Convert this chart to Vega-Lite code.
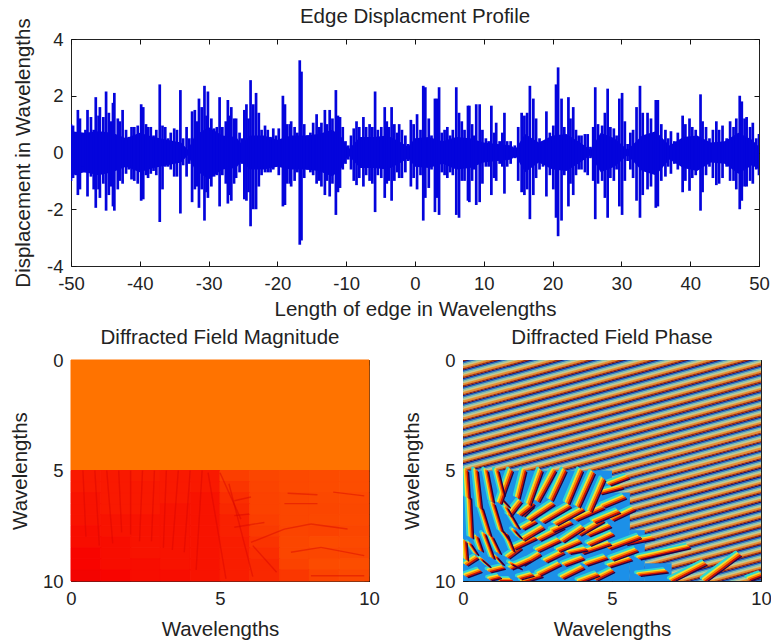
{
"$schema":"https://vega.github.io/schema/vega-lite/v6.json",
"background":"white",
"padding":{"left":9,"top":6,"right":0,"bottom":0},
"bounds":"flush",
"spacing":94,
"config":{"view":{"stroke":"#222","strokeWidth":1},"font":"Liberation Sans",
"axis":{"grid":false,"domain":false,"tickColor":"#111","tickSize":-5,"labelFont":"Liberation Sans","titleFont":"Liberation Sans","labelFontSize":18.5,"titleFontSize":20.5,"titleFontWeight":"normal","labelColor":"#222","titleColor":"#222","labelPadding":13,"zindex":1,"labelOverlap":false,"labelFlush":false,"labelExpr":"datum.value"},
"title":{"font":"Liberation Sans","fontSize":20.5,"fontWeight":"normal","color":"#222"}},
"datasets":{
"ax":[{"x":0,"y":0}],
"band":[{"x":-50,"a":0.75,"b":-0.8},{"x":-48,"a":0.7,"b":-0.7},{"x":-46,"a":0.75,"b":-0.8},{"x":-44,"a":0.7,"b":-0.7},{"x":-42,"a":0.5,"b":-0.5},{"x":-40,"a":0.7,"b":-0.7},{"x":-38,"a":0.55,"b":-0.55},{"x":-36,"a":0.45,"b":-0.45},{"x":-34,"a":0.35,"b":-0.35},{"x":-33,"a":0.1,"b":-0.1},{"x":-32,"a":0.6,"b":-0.6},{"x":-30,"a":0.9,"b":-0.95},{"x":-28,"a":0.6,"b":-0.6},{"x":-26,"a":0.55,"b":-0.55},{"x":-25.2,"a":0.3,"b":-0.3},{"x":-24,"a":0.6,"b":-0.6},{"x":-22,"a":0.6,"b":-0.6},{"x":-20,"a":0.45,"b":-0.5},{"x":-18,"a":0.6,"b":-0.6},{"x":-16,"a":0.6,"b":-0.6},{"x":-14,"a":0.65,"b":-0.65},{"x":-12,"a":0.8,"b":-0.85},{"x":-10.5,"a":0.5,"b":-0.5},{"x":-9.7,"a":0.1,"b":-0.1},{"x":-8,"a":0.55,"b":-0.55},{"x":-6,"a":0.55,"b":-0.55},{"x":-4,"a":0.6,"b":-0.6},{"x":-2,"a":0.35,"b":-0.35},{"x":-1,"a":0.2,"b":-0.2},{"x":0,"a":0.5,"b":-0.5},{"x":2,"a":0.55,"b":-0.55},{"x":4,"a":0.4,"b":-0.4},{"x":6,"a":0.55,"b":-0.6},{"x":8,"a":0.5,"b":-0.55},{"x":10,"a":0.35,"b":-0.35},{"x":12,"a":0.3,"b":-0.3},{"x":14,"a":0.25,"b":-0.25},{"x":14.6,"a":0.12,"b":-0.12},{"x":16,"a":0.65,"b":-0.7},{"x":18,"a":0.35,"b":-0.35},{"x":20,"a":0.6,"b":-0.6},{"x":22,"a":0.65,"b":-0.65},{"x":24,"a":0.35,"b":-0.35},{"x":25.5,"a":0.1,"b":-0.1},{"x":27,"a":0.7,"b":-0.7},{"x":29,"a":0.5,"b":-0.5},{"x":30.9,"a":0.1,"b":-0.1},{"x":33,"a":0.6,"b":-0.65},{"x":35,"a":0.75,"b":-0.8},{"x":37,"a":0.25,"b":-0.25},{"x":39,"a":0.55,"b":-0.55},{"x":41,"a":0.6,"b":-0.65},{"x":43,"a":0.35,"b":-0.35},{"x":45,"a":0.4,"b":-0.4},{"x":47,"a":0.7,"b":-0.75},{"x":49,"a":0.45,"b":-0.45},{"x":50,"a":0.2,"b":-0.6}],
"sp":[{"x":-50,"a":1,"b":-1},{"x":-49.7,"a":0.95,"b":-0.9},{"x":-49.3,"a":0.7,"b":-0.8},{"x":-49,"a":1.5,"b":-1.5},{"x":-48.7,"a":1.2,"b":-1.3},{"x":-48.3,"a":0.6,"b":-0.5},{"x":-47.9,"a":0.8,"b":-0.7},{"x":-47.6,"a":1.5,"b":-1.55},{"x":-47.1,"a":1.25,"b":-0.85},{"x":-46.7,"a":0.8,"b":-1.3},{"x":-46.4,"a":1.95,"b":-1.95},{"x":-46,"a":1.3,"b":-1.3},{"x":-45.8,"a":1.6,"b":-1.6},{"x":-45.3,"a":1.25,"b":-1.1},{"x":-44.9,"a":2.15,"b":-2.05},{"x":-44.5,"a":1.4,"b":-1.5},{"x":-44.2,"a":1.1,"b":-1.2},{"x":-43.9,"a":1.75,"b":-1.9},{"x":-43.7,"a":2.1,"b":-2.05},{"x":-43.2,"a":1.2,"b":-1.3},{"x":-42.9,"a":1.1,"b":-1},{"x":-42.5,"a":1.5,"b":-1.1},{"x":-42,"a":0.8,"b":-0.75},{"x":-41.6,"a":0.55,"b":-0.6},{"x":-41.2,"a":0.9,"b":-0.95},{"x":-40.8,"a":0.9,"b":-1},{"x":-40.3,"a":0.95,"b":-1.1},{"x":-39.8,"a":1.7,"b":-1.7},{"x":-39.5,"a":1.6,"b":-1.65},{"x":-39.1,"a":1,"b":-0.8},{"x":-38.8,"a":0.9,"b":-0.9},{"x":-38.4,"a":0.9,"b":-0.75},{"x":-38,"a":0.6,"b":-0.65},{"x":-37.6,"a":0.8,"b":-0.8},{"x":-37.1,"a":2.4,"b":-2.45},{"x":-36.7,"a":0.95,"b":-1.3},{"x":-36.3,"a":0.9,"b":-0.5},{"x":-35.9,"a":0.5,"b":-0.5},{"x":-35.5,"a":0.7,"b":-0.6},{"x":-35,"a":0.85,"b":-0.85},{"x":-34.6,"a":0.8,"b":-0.85},{"x":-34.1,"a":2.2,"b":-2.15},{"x":-33.7,"a":0.5,"b":-0.45},{"x":-33.2,"a":0.9,"b":-0.85},{"x":-32.8,"a":0.5,"b":-0.4},{"x":-32.4,"a":1.45,"b":-1.75},{"x":-32,"a":1.5,"b":-1.3},{"x":-31.7,"a":1.1,"b":-1.2},{"x":-31.4,"a":1.9,"b":-1.95},{"x":-31,"a":1.6,"b":-1.3},{"x":-30.6,"a":2.35,"b":-2.4},{"x":-30.3,"a":1.3,"b":-1.4},{"x":-30.1,"a":2.15,"b":-1.6},{"x":-29.6,"a":1.2,"b":-1.2},{"x":-29.2,"a":0.85,"b":-0.85},{"x":-28.8,"a":0.9,"b":-0.8},{"x":-28.4,"a":1.95,"b":-1.9},{"x":-28,"a":0.9,"b":-0.8},{"x":-27.5,"a":1.1,"b":-1.1},{"x":-27.2,"a":1.85,"b":-1.8},{"x":-26.9,"a":1.3,"b":-1.5},{"x":-26.7,"a":1.6,"b":-1.7},{"x":-26.3,"a":1.2,"b":-1.1},{"x":-26,"a":1.2,"b":-0.9},{"x":-25.5,"a":0.7,"b":-0.7},{"x":-25.1,"a":0.5,"b":-0.4},{"x":-24.8,"a":1.5,"b":-1.65},{"x":-24.5,"a":1.7,"b":-1.7},{"x":-24.2,"a":1.2,"b":-1.4},{"x":-23.9,"a":2.55,"b":-2.6},{"x":-23.5,"a":1.7,"b":-2},{"x":-23.1,"a":2.1,"b":-2},{"x":-22.7,"a":1.4,"b":-1.2},{"x":-22.3,"a":0.8,"b":-0.8},{"x":-21.8,"a":0.95,"b":-0.7},{"x":-21.4,"a":0.8,"b":-0.7},{"x":-21,"a":0.55,"b":-0.7},{"x":-20.6,"a":0.85,"b":-0.6},{"x":-20.2,"a":0.6,"b":-0.5},{"x":-19.8,"a":0.85,"b":-0.8},{"x":-19.2,"a":2,"b":-1.9},{"x":-18.9,"a":1.7,"b":-1.85},{"x":-18.6,"a":1,"b":-1.1},{"x":-18.2,"a":1,"b":-1.1},{"x":-18,"a":1.1,"b":-1.2},{"x":-17.5,"a":0.9,"b":-1},{"x":-17.1,"a":0.7,"b":-0.7},{"x":-16.75,"a":3.25,"b":-3.25},{"x":-16.5,"a":2.85,"b":-3.1},{"x":-16.1,"a":1,"b":-0.9},{"x":-15.7,"a":0.6,"b":-0.6},{"x":-15.2,"a":0.7,"b":-0.7},{"x":-14.8,"a":1.05,"b":-0.8},{"x":-14.3,"a":1.35,"b":-1.1},{"x":-13.9,"a":0.9,"b":-1},{"x":-13.6,"a":1.05,"b":-1.2},{"x":-13.1,"a":1.5,"b":-1.5},{"x":-12.8,"a":1,"b":-1},{"x":-12.4,"a":1.5,"b":-1.55},{"x":-12,"a":1.2,"b":-1.1},{"x":-11.5,"a":2.2,"b":-2.2},{"x":-11.2,"a":1.3,"b":-1.4},{"x":-10.9,"a":1.25,"b":-1.25},{"x":-10.5,"a":0.9,"b":-0.6},{"x":-10.1,"a":0.4,"b":-0.4},{"x":-9.7,"a":0.25,"b":-0.25},{"x":-9.3,"a":0.6,"b":-0.6},{"x":-8.9,"a":0.85,"b":-1},{"x":-8.5,"a":1.1,"b":-1.15},{"x":-8.1,"a":0.9,"b":-0.9},{"x":-7.5,"a":1.25,"b":-1.2},{"x":-7.1,"a":0.9,"b":-0.8},{"x":-6.6,"a":1,"b":-1},{"x":-6.2,"a":0.9,"b":-1.1},{"x":-5.8,"a":2.15,"b":-2.1},{"x":-5.4,"a":0.8,"b":-0.8},{"x":-4.9,"a":0.9,"b":-0.9},{"x":-4.4,"a":1.6,"b":-1.6},{"x":-4.1,"a":1.1,"b":-1.1},{"x":-3.8,"a":0.9,"b":-1},{"x":-3.4,"a":1.6,"b":-1.7},{"x":-3,"a":1,"b":-1},{"x":-2.6,"a":0.7,"b":-0.7},{"x":-2.3,"a":1,"b":-0.9},{"x":-1.9,"a":0.8,"b":-0.9},{"x":-1.4,"a":0.6,"b":-0.7},{"x":-1,"a":0.3,"b":-0.3},{"x":-0.6,"a":1.15,"b":-1.2},{"x":-0.2,"a":1,"b":-0.9},{"x":0.3,"a":1.35,"b":-1.3},{"x":0.8,"a":0.8,"b":-0.8},{"x":1.2,"a":2.35,"b":-2.4},{"x":1.5,"a":2.3,"b":-1.6},{"x":2,"a":1.2,"b":-1.25},{"x":2.4,"a":0.6,"b":-0.6},{"x":2.9,"a":1.9,"b":-2.1},{"x":3.2,"a":1.9,"b":-1.6},{"x":3.5,"a":2.3,"b":-2.2},{"x":3.9,"a":0.7,"b":-0.7},{"x":4.3,"a":0.8,"b":-0.8},{"x":4.7,"a":0.9,"b":-0.9},{"x":5.1,"a":0.6,"b":-0.7},{"x":5.5,"a":0.8,"b":-0.8},{"x":6,"a":2.3,"b":-2.2},{"x":6.4,"a":1.4,"b":-2.3},{"x":6.8,"a":1.1,"b":-1},{"x":7.2,"a":0.8,"b":-1},{"x":7.7,"a":1.65,"b":-1.7},{"x":7.9,"a":1.65,"b":-1.75},{"x":8.3,"a":1,"b":-1},{"x":8.6,"a":0.6,"b":-0.6},{"x":8.9,"a":1.7,"b":-1.85},{"x":9.4,"a":1.7,"b":-1.75},{"x":9.8,"a":0.8,"b":-1.1},{"x":10.3,"a":0.5,"b":-0.5},{"x":10.7,"a":0.4,"b":-0.5},{"x":11.1,"a":1.65,"b":-1.5},{"x":11.5,"a":0.7,"b":-0.9},{"x":11.8,"a":1.05,"b":-1},{"x":12.3,"a":0.4,"b":-0.4},{"x":12.7,"a":0.7,"b":-0.5},{"x":13,"a":1.4,"b":-1.45},{"x":13.4,"a":0.4,"b":-0.5},{"x":13.9,"a":0.4,"b":-0.4},{"x":14.5,"a":0.25,"b":-0.2},{"x":15,"a":0.9,"b":-1},{"x":15.5,"a":1.4,"b":-1.4},{"x":15.9,"a":1.3,"b":-1.5},{"x":16.3,"a":1.4,"b":-1.3},{"x":16.7,"a":2.35,"b":-2.35},{"x":17.2,"a":1.9,"b":-1.5},{"x":17.6,"a":1.2,"b":-0.9},{"x":18.1,"a":0.5,"b":-0.6},{"x":18.6,"a":0.4,"b":-0.5},{"x":19.1,"a":1.45,"b":-1.55},{"x":19.6,"a":0.7,"b":-0.8},{"x":20.1,"a":0.95,"b":-1.3},{"x":20.5,"a":2.4,"b":-2.3},{"x":20.8,"a":3,"b":-2.95},{"x":21.3,"a":1.9,"b":-2.4},{"x":21.7,"a":0.9,"b":-0.8},{"x":22.3,"a":1.95,"b":-1.9},{"x":22.6,"a":1.2,"b":-1.1},{"x":23,"a":1.6,"b":-1.5},{"x":23.4,"a":0.8,"b":-0.8},{"x":23.8,"a":0.6,"b":-0.6},{"x":24.2,"a":0.6,"b":-0.6},{"x":24.7,"a":0.65,"b":-0.7},{"x":25.1,"a":0.65,"b":-0.8},{"x":25.5,"a":0.2,"b":-0.2},{"x":25.9,"a":0.9,"b":-1},{"x":26.2,"a":2.3,"b":-2.35},{"x":26.6,"a":1,"b":-1.1},{"x":27.2,"a":0.95,"b":-1},{"x":27.6,"a":1.4,"b":-1.6},{"x":28,"a":2.25,"b":-2.3},{"x":28.4,"a":0.9,"b":-0.9},{"x":28.9,"a":0.85,"b":-1},{"x":29.3,"a":0.6,"b":-0.6},{"x":29.7,"a":1.9,"b":-1.9},{"x":30.1,"a":2.1,"b":-2.2},{"x":30.5,"a":1.1,"b":-1},{"x":30.9,"a":0.3,"b":-0.3},{"x":31.3,"a":0.7,"b":-0.6},{"x":31.7,"a":0.8,"b":-0.9},{"x":32.2,"a":1.6,"b":-1.7},{"x":32.7,"a":2.35,"b":-2.3},{"x":33.1,"a":1.4,"b":-1.5},{"x":33.8,"a":1.4,"b":-1.3},{"x":34.3,"a":1.2,"b":-1.2},{"x":35,"a":1.85,"b":-1.95},{"x":35.3,"a":1.85,"b":-1.9},{"x":35.8,"a":1,"b":-1},{"x":36.4,"a":0.8,"b":-0.85},{"x":36.8,"a":0.5,"b":-0.5},{"x":37.2,"a":0.75,"b":-0.75},{"x":37.7,"a":0.4,"b":-0.4},{"x":38.2,"a":0.7,"b":-0.6},{"x":38.9,"a":1.3,"b":-1.4},{"x":39.3,"a":1,"b":-1},{"x":39.9,"a":1.2,"b":-1.35},{"x":40.3,"a":0.9,"b":-0.9},{"x":40.8,"a":0.8,"b":-0.8},{"x":41.5,"a":2.05,"b":-2.05},{"x":41.8,"a":1.1,"b":-1.4},{"x":42.3,"a":0.9,"b":-0.8},{"x":42.8,"a":0.5,"b":-0.5},{"x":43.3,"a":0.8,"b":-0.9},{"x":43.8,"a":1.1,"b":-1.15},{"x":44.2,"a":0.8,"b":-1.1},{"x":44.7,"a":0.95,"b":-0.9},{"x":45.3,"a":0.5,"b":-0.5},{"x":45.8,"a":1.1,"b":-1},{"x":46.3,"a":0.9,"b":-1},{"x":46.7,"a":1.2,"b":-1.3},{"x":47.2,"a":2,"b":-2},{"x":47.5,"a":1.8,"b":-1.7},{"x":47.9,"a":1.2,"b":-1.2},{"x":48.2,"a":1.25,"b":-1.2},{"x":48.7,"a":0.9,"b":-1},{"x":49.1,"a":1.05,"b":-1.1},{"x":49.6,"a":0.5,"b":-0.6},{"x":50,"a":0.65,"b":-0.8}],
"mag":[{"x":0,"x2":10,"y":0,"y2":5,"v":1},
{"x":0,"x2":1,"y":5,"y2":5.5,"v":0.53},{"x":1,"x2":2,"y":5,"y2":5.5,"v":0.53},{"x":2,"x2":3,"y":5,"y2":5.5,"v":0.54},{"x":3,"x2":4,"y":5,"y2":5.5,"v":0.53},{"x":4,"x2":5,"y":5,"y2":5.5,"v":0.53},{"x":5,"x2":6,"y":5,"y2":5.5,"v":0.66},{"x":6,"x2":7,"y":5,"y2":5.5,"v":0.7},{"x":7,"x2":8,"y":5,"y2":5.5,"v":0.72},{"x":8,"x2":9,"y":5,"y2":5.5,"v":0.73},{"x":9,"x2":10,"y":5,"y2":5.5,"v":0.74},
{"x":0,"x2":1,"y":5.5,"y2":6,"v":0.53},{"x":1,"x2":2,"y":5.5,"y2":6,"v":0.53},{"x":2,"x2":3,"y":5.5,"y2":6,"v":0.53},{"x":3,"x2":4,"y":5.5,"y2":6,"v":0.53},{"x":4,"x2":5,"y":5.5,"y2":6,"v":0.53},{"x":5,"x2":6,"y":5.5,"y2":6,"v":0.62},{"x":6,"x2":7,"y":5.5,"y2":6,"v":0.69},{"x":7,"x2":8,"y":5.5,"y2":6,"v":0.72},{"x":8,"x2":9,"y":5.5,"y2":6,"v":0.73},{"x":9,"x2":10,"y":5.5,"y2":6,"v":0.74},
{"x":0,"x2":1,"y":6,"y2":6.5,"v":0.52},{"x":1,"x2":2,"y":6,"y2":6.5,"v":0.53},{"x":2,"x2":3,"y":6,"y2":6.5,"v":0.53},{"x":3,"x2":4,"y":6,"y2":6.5,"v":0.53},{"x":4,"x2":5,"y":6,"y2":6.5,"v":0.52},{"x":5,"x2":6,"y":6,"y2":6.5,"v":0.59},{"x":6,"x2":7,"y":6,"y2":6.5,"v":0.68},{"x":7,"x2":8,"y":6,"y2":6.5,"v":0.7},{"x":8,"x2":9,"y":6,"y2":6.5,"v":0.71},{"x":9,"x2":10,"y":6,"y2":6.5,"v":0.72},
{"x":0,"x2":1,"y":6.5,"y2":7,"v":0.52},{"x":1,"x2":2,"y":6.5,"y2":7,"v":0.53},{"x":2,"x2":3,"y":6.5,"y2":7,"v":0.53},{"x":3,"x2":4,"y":6.5,"y2":7,"v":0.52},{"x":4,"x2":5,"y":6.5,"y2":7,"v":0.52},{"x":5,"x2":6,"y":6.5,"y2":7,"v":0.57},{"x":6,"x2":7,"y":6.5,"y2":7,"v":0.68},{"x":7,"x2":8,"y":6.5,"y2":7,"v":0.7},{"x":8,"x2":9,"y":6.5,"y2":7,"v":0.7},{"x":9,"x2":10,"y":6.5,"y2":7,"v":0.71},
{"x":0,"x2":1,"y":7,"y2":7.5,"v":0.52},{"x":1,"x2":2,"y":7,"y2":7.5,"v":0.52},{"x":2,"x2":3,"y":7,"y2":7.5,"v":0.52},{"x":3,"x2":4,"y":7,"y2":7.5,"v":0.52},{"x":4,"x2":5,"y":7,"y2":7.5,"v":0.52},{"x":5,"x2":6,"y":7,"y2":7.5,"v":0.55},{"x":6,"x2":7,"y":7,"y2":7.5,"v":0.66},{"x":7,"x2":8,"y":7,"y2":7.5,"v":0.7},{"x":8,"x2":9,"y":7,"y2":7.5,"v":0.71},{"x":9,"x2":10,"y":7,"y2":7.5,"v":0.72},
{"x":0,"x2":1,"y":7.5,"y2":8,"v":0.51},{"x":1,"x2":2,"y":7.5,"y2":8,"v":0.52},{"x":2,"x2":3,"y":7.5,"y2":8,"v":0.52},{"x":3,"x2":4,"y":7.5,"y2":8,"v":0.52},{"x":4,"x2":5,"y":7.5,"y2":8,"v":0.52},{"x":5,"x2":6,"y":7.5,"y2":8,"v":0.55},{"x":6,"x2":7,"y":7.5,"y2":8,"v":0.64},{"x":7,"x2":8,"y":7.5,"y2":8,"v":0.69},{"x":8,"x2":9,"y":7.5,"y2":8,"v":0.68},{"x":9,"x2":10,"y":7.5,"y2":8,"v":0.7},
{"x":0,"x2":1,"y":8,"y2":8.5,"v":0.51},{"x":1,"x2":2,"y":8,"y2":8.5,"v":0.51},{"x":2,"x2":3,"y":8,"y2":8.5,"v":0.52},{"x":3,"x2":4,"y":8,"y2":8.5,"v":0.52},{"x":4,"x2":5,"y":8,"y2":8.5,"v":0.52},{"x":5,"x2":6,"y":8,"y2":8.5,"v":0.54},{"x":6,"x2":7,"y":8,"y2":8.5,"v":0.61},{"x":7,"x2":8,"y":8,"y2":8.5,"v":0.7},{"x":8,"x2":9,"y":8,"y2":8.5,"v":0.73},{"x":9,"x2":10,"y":8,"y2":8.5,"v":0.72},
{"x":0,"x2":1,"y":8.5,"y2":9,"v":0.5},{"x":1,"x2":2,"y":8.5,"y2":9,"v":0.51},{"x":2,"x2":3,"y":8.5,"y2":9,"v":0.52},{"x":3,"x2":4,"y":8.5,"y2":9,"v":0.52},{"x":4,"x2":5,"y":8.5,"y2":9,"v":0.52},{"x":5,"x2":6,"y":8.5,"y2":9,"v":0.54},{"x":6,"x2":7,"y":8.5,"y2":9,"v":0.59},{"x":7,"x2":8,"y":8.5,"y2":9,"v":0.7},{"x":8,"x2":9,"y":8.5,"y2":9,"v":0.7},{"x":9,"x2":10,"y":8.5,"y2":9,"v":0.7},
{"x":0,"x2":1,"y":9,"y2":9.5,"v":0.5},{"x":1,"x2":2,"y":9,"y2":9.5,"v":0.51},{"x":2,"x2":3,"y":9,"y2":9.5,"v":0.51},{"x":3,"x2":4,"y":9,"y2":9.5,"v":0.52},{"x":4,"x2":5,"y":9,"y2":9.5,"v":0.52},{"x":5,"x2":6,"y":9,"y2":9.5,"v":0.54},{"x":6,"x2":7,"y":9,"y2":9.5,"v":0.57},{"x":7,"x2":8,"y":9,"y2":9.5,"v":0.68},{"x":8,"x2":9,"y":9,"y2":9.5,"v":0.73},{"x":9,"x2":10,"y":9,"y2":9.5,"v":0.74},
{"x":0,"x2":1,"y":9.5,"y2":10,"v":0.48},{"x":1,"x2":2,"y":9.5,"y2":10,"v":0.5},{"x":2,"x2":3,"y":9.5,"y2":10,"v":0.51},{"x":3,"x2":4,"y":9.5,"y2":10,"v":0.51},{"x":4,"x2":5,"y":9.5,"y2":10,"v":0.52},{"x":5,"x2":6,"y":9.5,"y2":10,"v":0.54},{"x":6,"x2":7,"y":9.5,"y2":10,"v":0.57},{"x":7,"x2":8,"y":9.5,"y2":10,"v":0.63},{"x":8,"x2":9,"y":9.5,"y2":10,"v":0.69},{"x":9,"x2":10,"y":9.5,"y2":10,"v":0.71}],
"tex":[{"x":5.48,"y":6.37,"x2":6.04,"y2":6.2},{"x":5.48,"y":7.04,"x2":5.98,"y2":6.97},{"x":5.48,"y":7.57,"x2":6.49,"y2":7.35},{"x":6.04,"y":8.25,"x2":7.16,"y2":7.65},{"x":7.16,"y":7.65,"x2":8.05,"y2":7.42},{"x":8.05,"y":7.42,"x2":9.28,"y2":7.65},{"x":7.38,"y":8.7,"x2":8.39,"y2":8.48},{"x":8.39,"y":8.48,"x2":9.84,"y2":8.85},{"x":7.16,"y":6.5,"x2":8.27,"y2":6.5},{"x":7.27,"y":6.03,"x2":8.27,"y2":6.1},{"x":8.05,"y":9.76,"x2":9.84,"y2":9.76},{"x":8.8,"y":5.98,"x2":9.84,"y2":6.15},{"x":5,"y":5.1,"x2":5.7,"y2":7.2},{"x":5.3,"y":5.6,"x2":6.1,"y2":9.8},{"x":4.6,"y":5.1,"x2":5.2,"y2":9.9},{"x":6.1,"y":8.4,"x2":6.9,"y2":9.6},{"x":0.4,"y":5,"x2":0.5,"y2":8},{"x":0.8,"y":5,"x2":0.95,"y2":8.4},{"x":1.2,"y":5,"x2":1.4,"y2":8.3},{"x":1.6,"y":5,"x2":1.7,"y2":7.8},{"x":2,"y":5,"x2":2,"y2":7.9},{"x":2.4,"y":5,"x2":2.3,"y2":8.2},{"x":2.8,"y":5,"x2":2.7,"y2":8.2},{"x":3.2,"y":5,"x2":3.1,"y2":8.5},{"x":3.6,"y":5,"x2":3.4,"y2":8.6},{"x":4,"y":5,"x2":3.8,"y2":8.7},{"x":4.4,"y":5,"x2":4.2,"y2":9.5}],
"st":[{"x":0,"y":-0.3,"x2":10,"y2":-3.95},{"x":0,"y":0.085,"x2":10,"y2":-3.565},{"x":0,"y":0.47,"x2":10,"y2":-3.18},{"x":0,"y":0.855,"x2":10,"y2":-2.795},{"x":0,"y":1.24,"x2":10,"y2":-2.41},{"x":0,"y":1.625,"x2":10,"y2":-2.025},{"x":0,"y":2.01,"x2":10,"y2":-1.64},{"x":0,"y":2.395,"x2":10,"y2":-1.255},{"x":0,"y":2.78,"x2":10,"y2":-0.87},{"x":0,"y":3.165,"x2":10,"y2":-0.485},{"x":0,"y":3.55,"x2":10,"y2":-0.1},{"x":0,"y":3.935,"x2":10,"y2":0.285},{"x":0,"y":4.32,"x2":10,"y2":0.67},{"x":0,"y":4.705,"x2":10,"y2":1.055},{"x":0,"y":5.09,"x2":10,"y2":1.44},{"x":0,"y":5.475,"x2":10,"y2":1.825},{"x":0,"y":5.86,"x2":10,"y2":2.21},{"x":0,"y":6.245,"x2":10,"y2":2.595},{"x":0,"y":6.63,"x2":10,"y2":2.98},{"x":0,"y":7.015,"x2":10,"y2":3.365},{"x":0,"y":7.4,"x2":10,"y2":3.75},{"x":0,"y":7.785,"x2":10,"y2":4.135},{"x":0,"y":8.17,"x2":10,"y2":4.52},{"x":0,"y":8.555,"x2":10,"y2":4.905},{"x":0,"y":8.94,"x2":10,"y2":5.29},{"x":0,"y":9.325,"x2":10,"y2":5.675},{"x":0,"y":9.71,"x2":10,"y2":6.06},{"x":0,"y":10.095,"x2":10,"y2":6.445},{"x":0,"y":10.48,"x2":10,"y2":6.83},{"x":0,"y":10.865,"x2":10,"y2":7.215},{"x":0,"y":11.25,"x2":10,"y2":7.6},{"x":0,"y":11.635,"x2":10,"y2":7.985},{"x":0,"y":12.02,"x2":10,"y2":8.37},{"x":0,"y":12.405,"x2":10,"y2":8.755},{"x":0,"y":12.79,"x2":10,"y2":9.14},{"x":0,"y":13.175,"x2":10,"y2":9.525},{"x":0,"y":13.56,"x2":10,"y2":9.91},{"x":0,"y":13.945,"x2":10,"y2":10.295}],
"mask":[{"x":0,"x2":5,"y":5,"y2":10},{"x":5,"x2":5.6,"y":6,"y2":10},{"x":5.6,"x2":6.1,"y":7.7,"y2":10},{"x":6.1,"x2":7,"y":9.2,"y2":10}],
"fr":[{"x":0.1,"y":5,"x2":0.16,"y2":6.2},{"x":0.43,"y":5,"x2":0.57,"y2":6.67},{"x":0.77,"y":5,"x2":0.97,"y2":6.37},{"x":1.13,"y":5,"x2":1.33,"y2":6.07},{"x":1.6,"y":5,"x2":1.22,"y2":6.44},{"x":2.05,"y":5,"x2":1.83,"y2":6.2},{"x":2.6,"y":5,"x2":2.2,"y2":6.5},{"x":3.05,"y":5,"x2":2.5,"y2":6.35},{"x":3.4,"y":5,"x2":2.95,"y2":6.3},{"x":3.95,"y":5,"x2":3.5,"y2":6.45},{"x":4.35,"y":5.1,"x2":3.85,"y2":6.6},{"x":4.7,"y":5.4,"x2":4.25,"y2":6.8},{"x":0.2,"y":6.2,"x2":0.27,"y2":8},{"x":0.6,"y":6.67,"x2":0.88,"y2":7.9},{"x":1,"y":6.5,"x2":1.27,"y2":7.7},{"x":1.44,"y":6.67,"x2":1.83,"y2":7.57},{"x":1.9,"y":6.97,"x2":2.33,"y2":6.5},{"x":2.22,"y":7.2,"x2":3,"y2":6.5},{"x":2.67,"y":7.3,"x2":3.55,"y2":6.6},{"x":3.11,"y":7.4,"x2":4,"y2":6.75},{"x":3.78,"y":7.2,"x2":4.67,"y2":6.67},{"x":2,"y":8.1,"x2":2.66,"y2":7.57},{"x":2.55,"y":8.1,"x2":3.33,"y2":7.57},{"x":3.33,"y":8.17,"x2":4,"y2":7.57},{"x":3.9,"y":7.87,"x2":4.67,"y2":7.27},{"x":4.23,"y":8.33,"x2":5,"y2":7.87},{"x":1.44,"y":7.87,"x2":1.66,"y2":8.6},{"x":0.7,"y":7.87,"x2":0.99,"y2":8.93},{"x":0.1,"y":9.23,"x2":0.44,"y2":8.93},{"x":0.22,"y":8.3,"x2":0.44,"y2":8.75},{"x":0.1,"y":9.75,"x2":0.55,"y2":9.53},{"x":0.88,"y":9.53,"x2":1.33,"y2":9.38},{"x":1.22,"y":9.95,"x2":1.6,"y2":9.95},{"x":2,"y":9.23,"x2":2.55,"y2":8.78},{"x":2.77,"y":9.08,"x2":3.33,"y2":8.7},{"x":3.55,"y":8.7,"x2":4.1,"y2":8.55},{"x":2.55,"y":9.68,"x2":3.22,"y2":9.23},{"x":3.33,"y":9.83,"x2":4,"y2":9.38},{"x":4.12,"y":9.23,"x2":4.78,"y2":8.93},{"x":4.45,"y":9.9,"x2":5,"y2":9.53},{"x":1.9,"y":9.85,"x2":2.3,"y2":9.7},{"x":1.5,"y":8.9,"x2":1.9,"y2":8.5},{"x":1.1,"y":8.9,"x2":1.3,"y2":9.2},{"x":4.9,"y":5.6,"x2":5.5,"y2":5.3},{"x":4.7,"y":6.6,"x2":5.4,"y2":6.2},{"x":5,"y":7.2,"x2":5.7,"y2":6.75},{"x":4.9,"y":8.5,"x2":5.9,"y2":8},{"x":5,"y":9,"x2":5.8,"y2":8.6},{"x":5.45,"y":8.3,"x2":6.35,"y2":8.05},{"x":5.9,"y":8.95,"x2":7.55,"y2":8.45},{"x":5.9,"y":9.7,"x2":6.8,"y2":9.55},{"x":7,"y":9.95,"x2":8.1,"y2":9.2},{"x":8.1,"y":9.95,"x2":9.25,"y2":8.8},{"x":9.6,"y":9.9,"x2":10,"y2":9.7},{"x":1.7,"y":8.5,"x2":2.4,"y2":8.05},{"x":2.5,"y":8.6,"x2":3.2,"y2":8.15},{"x":3.2,"y":8.6,"x2":3.9,"y2":8.2},{"x":4,"y":8.7,"x2":4.9,"y2":8.3},{"x":1.6,"y":9.4,"x2":2.2,"y2":9.05},{"x":3.4,"y":9.25,"x2":4,"y2":8.95},{"x":2,"y":10,"x2":2.6,"y2":9.75},{"x":3.9,"y":10,"x2":4.5,"y2":9.7},{"x":4.9,"y":9.3,"x2":5.6,"y2":9},{"x":4.4,"y":7.3,"x2":5.2,"y2":6.85},{"x":4.6,"y":6.0,"x2":5.3,"y2":5.75},{"x":0.05,"y":8.2,"x2":0.1,"y2":9},{"x":0.45,"y":8,"x2":0.6,"y2":8.6},{"x":0.95,"y":8,"x2":1.2,"y2":8.7},{"x":1.3,"y":7.7,"x2":1.5,"y2":8.1},{"x":0.6,"y":9,"x2":0.85,"y2":9.3},{"x":1.6,"y":9.2,"x2":1.9,"y2":9.4},{"x":0.9,"y":9.9,"x2":1.2,"y2":9.8},{"x":1.3,"y":6.3,"x2":1.5,"y2":6.6},{"x":1.9,"y":6.4,"x2":1.55,"y2":7},{"x":2.3,"y":6.6,"x2":2.0,"y2":7.0},{"x":2,"y":7.6,"x2":2.4,"y2":7.3},{"x":3.0,"y":7.7,"x2":3.6,"y2":7.35},{"x":4.2,"y":7.9,"x2":4.9,"y2":7.5},{"x":1.9,"y":8.0,"x2":1.7,"y2":7.7}]
},
"vconcat":[
{"width":688,"height":227,
"title":{"text":"Edge Displacment Profile","offset":-10},
"resolve":{"axis":{"x":"independent","y":"independent"}},
"layer":[
{"data":{"name":"band"},"mark":{"type":"area","color":"#0404dc","clip":true},"encoding":{"x":{"field":"x","type":"quantitative","scale":{"domain":[-50,50],"nice":false},"axis":null},"y":{"field":"a","type":"quantitative","scale":{"domain":[-4,4],"nice":false},"axis":null},"y2":{"field":"b"}}},
{"data":{"name":"sp"},"mark":{"type":"rule","color":"#0404dc","strokeWidth":2.7,"clip":true},"encoding":{"x":{"field":"x","type":"quantitative","scale":{"domain":[-50,50],"nice":false},"axis":null},"y":{"field":"a","type":"quantitative","scale":{"domain":[-4,4],"nice":false},"axis":null},"y2":{"field":"b"}}},
{"data":{"name":"ax"},"mark":{"type":"point","opacity":0},"encoding":{"x":{"field":"x","type":"quantitative","scale":{"domain":[-50,50],"nice":false},"axis":{"orient":"bottom","title":"Length of edge in Wavelengths","values":[-50,-40,-30,-20,-10,0,10,20,30,40,50],"titlePadding":7}},"y":{"field":"y","type":"quantitative","scale":{"domain":[-4,4],"nice":false},"axis":{"orient":"left","title":"Displacement in Wavelengths","values":[-4,-2,0,2,4],"titlePadding":13}}}},
{"data":{"name":"ax"},"mark":{"type":"point","opacity":0},"encoding":{"x":{"field":"x","type":"quantitative","scale":{"domain":[-50,50],"nice":false},"axis":{"orient":"top","title":null,"labels":false,"values":[-50,-40,-30,-20,-10,0,10,20,30,40,50]}},"y":{"field":"y","type":"quantitative","scale":{"domain":[-4,4],"nice":false},"axis":{"orient":"right","title":null,"labels":false,"values":[-4,-2,0,2,4]}}}}
]},
{"bounds":"flush","hconcat":[
{"width":298,"height":221,
"title":{"text":"Diffracted Field Magnitude","offset":3},
"resolve":{"axis":{"x":"independent","y":"independent"}},
"layer":[
{"data":{"name":"mag"},"mark":{"type":"rect","strokeWidth":1},"encoding":{"x":{"field":"x","type":"quantitative","scale":{"domain":[0,10]},"axis":null},"x2":{"field":"x2"},"y":{"field":"y","type":"quantitative","scale":{"domain":[10,0]},"axis":null},"y2":{"field":"y2"},"color":{"field":"v","type":"quantitative","legend":null,"scale":{"domain":[0,0.5,1],"range":["#7a0000","#f80400","#ff7300"]}},"stroke":{"field":"v","type":"quantitative","legend":null,"scale":{"domain":[0,0.5,1],"range":["#7a0000","#f80400","#ff7300"]}}}},
{"data":{"name":"tex"},"mark":{"type":"rule","stroke":"#d80400","strokeWidth":1.4,"opacity":0.45,"clip":true},"encoding":{"x":{"field":"x","type":"quantitative","scale":{"domain":[0,10]},"axis":null},"x2":{"field":"x2"},"y":{"field":"y","type":"quantitative","scale":{"domain":[10,0]},"axis":null},"y2":{"field":"y2"}}},
{"data":{"name":"ax"},"mark":{"type":"point","opacity":0},"encoding":{"x":{"field":"x","type":"quantitative","scale":{"domain":[0,10]},"axis":{"orient":"bottom","title":"Wavelengths","values":[0,5,10],"titlePadding":12}},"y":{"field":"y","type":"quantitative","scale":{"domain":[10,0]},"axis":{"orient":"left","title":"Wavelengths","values":[0,5,10],"titlePadding":12}}}},
{"data":{"name":"ax"},"mark":{"type":"point","opacity":0},"encoding":{"x":{"field":"x","type":"quantitative","scale":{"domain":[0,10]},"axis":{"orient":"top","title":null,"labels":false,"values":[0,5,10]}},"y":{"field":"y","type":"quantitative","scale":{"domain":[10,0]},"axis":{"orient":"right","title":null,"labels":false,"values":[0,5,10]}}}}
]},
{"width":298,"height":221,
"title":{"text":"Diffracted Field Phase","offset":3},
"resolve":{"axis":{"x":"independent","y":"independent"}},
"encoding":{"x":{"field":"x","type":"quantitative","scale":{"domain":[0,10]},"axis":null},"y":{"field":"y","type":"quantitative","scale":{"domain":[10,0]},"axis":null}},
"layer":[
{"data":{"name":"st"},"mark":{"type":"rule","clip":true,"stroke":"#101070","strokeWidth":1.8,"yOffset":0,"y2Offset":0},"encoding":{"x2":{"field":"x2"},"y2":{"field":"y2"}}},
{"data":{"name":"st"},"mark":{"type":"rule","clip":true,"stroke":"#3070c0","strokeWidth":2,"yOffset":1.2,"y2Offset":1.2},"encoding":{"x2":{"field":"x2"},"y2":{"field":"y2"}}},
{"data":{"name":"st"},"mark":{"type":"rule","clip":true,"stroke":"#80c0b0","strokeWidth":2,"yOffset":2.7,"y2Offset":2.7},"encoding":{"x2":{"field":"x2"},"y2":{"field":"y2"}}},
{"data":{"name":"st"},"mark":{"type":"rule","clip":true,"stroke":"#c8c890","strokeWidth":2,"yOffset":4.2,"y2Offset":4.2},"encoding":{"x2":{"field":"x2"},"y2":{"field":"y2"}}},
{"data":{"name":"st"},"mark":{"type":"rule","clip":true,"stroke":"#e89030","strokeWidth":2,"yOffset":5.7,"y2Offset":5.7},"encoding":{"x2":{"field":"x2"},"y2":{"field":"y2"}}},
{"data":{"name":"st"},"mark":{"type":"rule","clip":true,"stroke":"#a03010","strokeWidth":1.4,"yOffset":7.2,"y2Offset":7.2},"encoding":{"x2":{"field":"x2"},"y2":{"field":"y2"}}},
{"data":{"name":"mask"},"mark":{"type":"rect","color":"#1c90e8"},"encoding":{"x2":{"field":"x2"},"y2":{"field":"y2"}}},
{"data":{"name":"fr"},"mark":{"type":"rule","clip":true,"strokeCap":"round","stroke":"#30d8d0","strokeWidth":3.4,"xOffset":-3,"x2Offset":-3,"yOffset":-2.2,"y2Offset":-2.2},"encoding":{"x2":{"field":"x2"},"y2":{"field":"y2"}}},
{"data":{"name":"fr"},"mark":{"type":"rule","clip":true,"strokeCap":"round","stroke":"#f0e030","strokeWidth":2.2,"xOffset":-1.5,"x2Offset":-1.5,"yOffset":-1.1,"y2Offset":-1.1},"encoding":{"x2":{"field":"x2"},"y2":{"field":"y2"}}},
{"data":{"name":"fr"},"mark":{"type":"rule","clip":true,"strokeCap":"round","stroke":"#ff8000","strokeWidth":2.2},"encoding":{"x2":{"field":"x2"},"y2":{"field":"y2"}}},
{"data":{"name":"fr"},"mark":{"type":"rule","clip":true,"strokeCap":"round","stroke":"#d01000","strokeWidth":1.8,"xOffset":1.4,"x2Offset":1.4,"yOffset":1,"y2Offset":1},"encoding":{"x2":{"field":"x2"},"y2":{"field":"y2"}}},
{"data":{"name":"fr"},"mark":{"type":"rule","clip":true,"strokeCap":"round","stroke":"#280040","strokeWidth":1.4,"xOffset":2.6,"x2Offset":2.6,"yOffset":2,"y2Offset":2},"encoding":{"x2":{"field":"x2"},"y2":{"field":"y2"}}},
{"data":{"name":"ax"},"mark":{"type":"point","opacity":0},"encoding":{"x":{"field":"x","type":"quantitative","scale":{"domain":[0,10]},"axis":{"orient":"bottom","title":"Wavelengths","values":[0,5,10],"titlePadding":12}},"y":{"field":"y","type":"quantitative","scale":{"domain":[10,0]},"axis":{"orient":"left","title":"Wavelengths","values":[0,5,10],"titlePadding":12}}}},
{"data":{"name":"ax"},"mark":{"type":"point","opacity":0},"encoding":{"x":{"field":"x","type":"quantitative","scale":{"domain":[0,10]},"axis":{"orient":"top","title":null,"labels":false,"values":[0,5,10]}},"y":{"field":"y","type":"quantitative","scale":{"domain":[10,0]},"axis":{"orient":"right","title":null,"labels":false,"values":[0,5,10]}}}}
]}
],"spacing":94}
]
}
